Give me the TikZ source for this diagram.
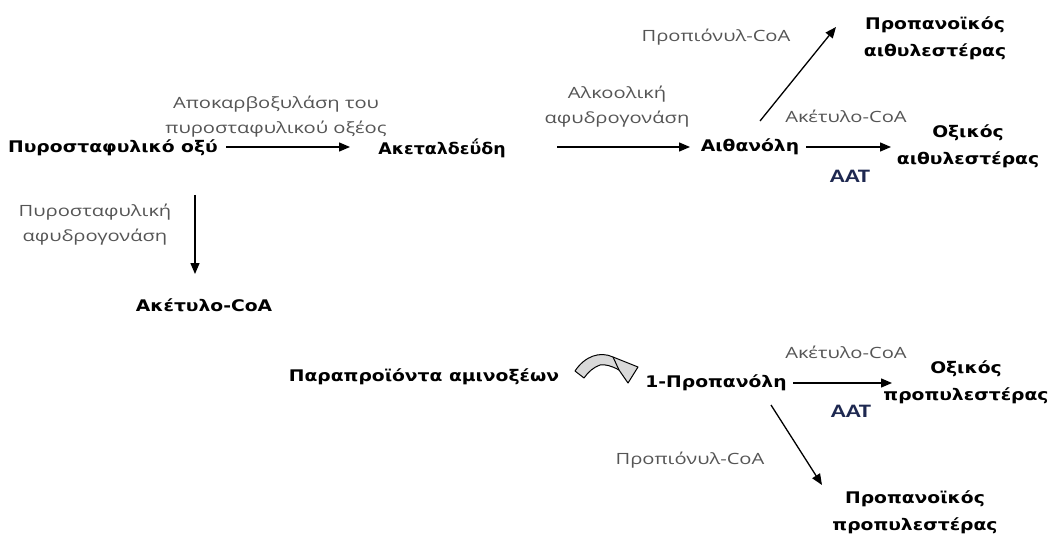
\documentclass[tikz,border=0pt]{standalone}
\usepackage{fontspec}
\setmainfont{DejaVu Sans}[FakeStretch=1.17]
\newfontfamily\labelfont{Open Sans}[FakeStretch=1.3]
\newfontfamily\enzfont{Carlito}[FakeStretch=1.3]
\usetikzlibrary{arrows.meta}
\definecolor{labelgray}{RGB}{85,85,85}
\definecolor{enzblue}{RGB}{30,40,80}
\tikzset{
  compound/.style={font=\bfseries\fontsize{16}{27}\selectfont, text=black, inner sep=0pt, align=center},
  enzlabel/.style={font=\labelfont\fontsize{15.5}{25}\selectfont, text=labelgray, inner sep=0pt, align=center},
  enzyme/.style={font=\enzfont\bfseries\fontsize{19}{19}\selectfont, text=enzblue, inner sep=0pt},
  flow/.style={draw=black, line width=1.3pt, -{Triangle[length=11pt,width=9pt]}},
  curvedarrow/.style={draw=black, line width=1pt, fill=gray!30, line join=round}
}
\begin{document}
\begin{tikzpicture}[x=1pt,y=-1pt]
  \useasboundingbox (0,0) rectangle (1054,540);

  % compounds
  \node[compound] (pyr)  at (113,148) {Πυροσταφυλικό οξύ};
  \node[compound] (acal) at (442,148) {\scalebox{0.93}[1]{Ακεταλδεΰδη}};
  \node[compound] (eth)  at (750,147) {Αιθανόλη};
  \node[compound] (etac) at (968,146) {Οξικός\\αιθυλεστέρας};
  \node[compound] (etpr) at (935,38)  {Προπανοϊκός\\αιθυλεστέρας};
  \node[compound] (acoa) at (204,305) {Ακέτυλο-CoA};
  \node[compound] (amino) at (424,377) {Παραπροϊόντα αμινοξέων};
  \node[compound] (prop) at (716,383) {1-Προπανόλη};
  \node[compound] (prac) at (966,382) {Οξικός\\προπυλεστέρας};
  \node[compound] (prpr) at (915,512) {Προπανοϊκός\\προπυλεστέρας};

  % connector end points
  \coordinate (a1s) at (226,147);  \coordinate (a1e) at (350,147);
  \coordinate (a2s) at (557,147);  \coordinate (a2e) at (690,147);
  \coordinate (a3s) at (806,147);  \coordinate (a3e) at (891,147);
  \coordinate (a4s) at (760,121);  \coordinate (a4e) at (836,27);
  \coordinate (a5s) at (195,195);  \coordinate (a5e) at (195,274);
  \coordinate (a6s) at (793,383);  \coordinate (a6e) at (892,383);
  \coordinate (a7s) at (771,405);  \coordinate (a7e) at (822,485);

  \draw[flow] (a1s) -- (a1e);
  \draw[flow] (a2s) -- (a2e);
  \draw[flow] (a3s) -- (a3e);
  \draw[flow] (a4s) -- (a4e);
  \draw[flow] (a5s) -- (a5e);
  \draw[flow] (a6s) -- (a6e);
  \draw[flow] (a7s) -- (a7e);

  % enzyme and co-substrate labels
  \node[enzlabel] (l1) at (276,117) {Αποκαρβοξυλάση του\\πυροσταφυλικού οξέος};
  \node[enzlabel] (l2) at (617,107) {Αλκοολική\\αφυδρογονάση};
  \node[enzlabel] (l3) at (846,116) {Ακέτυλο-CoA};
  \node[enzlabel] (l4) at (716,37)  {Προπιόνυλ-CoA};
  \node[enzlabel] (l5) at (95,225)  {Πυροσταφυλική\\αφυδρογονάση};
  \node[enzlabel] (l6) at (846,352) {Ακέτυλο-CoA};
  \node[enzlabel] (l7) at (690,460) {Προπιόνυλ-CoA};
  \node[enzyme] (aat1) at (850,176) {AAT};
  \node[enzyme] (aat2) at (851,411) {AAT};

  % curved block arrow from the amino-acid by-products
  \path[curvedarrow]
    (575,371) .. controls (585,356) and (600,351) .. (613,357)
    -- (638,367) -- (628,383) -- (619,370)
    .. controls (612,366) and (605,364) .. (600,365)
    .. controls (594,367) and (588,372) .. (584,378) -- cycle;
  \draw[black, line width=1pt] (613,357) -- (619,370);
\end{tikzpicture}
\end{document}
